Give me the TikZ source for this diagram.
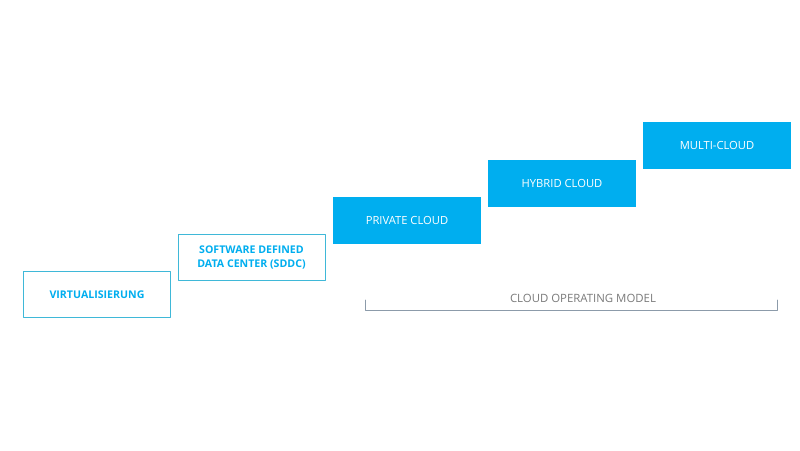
\documentclass[tikz,border=0pt]{standalone}
\usepackage{fontspec}
\setmainfont{Open Sans}
\definecolor{cloudblue}{HTML}{00AEEF}
\definecolor{stepline}{HTML}{3FB8D8}
\definecolor{bracketgray}{HTML}{8C9BAA}
\definecolor{labelgray}{HTML}{7A7A7A}
\begin{document}
\begin{tikzpicture}[
	x=1pt,y=-1pt,
	line cap=round,
	line join=round,
	outlinestep/.style={draw=stepline,line width=1pt,fill=white,text=cloudblue,
		minimum width=147pt,minimum height=46pt,align=center,inner sep=0pt,
		font=\fontsize{10.6}{14}\selectfont\bfseries},
	filledstep/.style={fill=cloudblue,text=white,
		minimum width=148pt,minimum height=47pt,align=center,inner sep=0pt,
		font=\fontsize{11.2}{14}\selectfont}
	]
	\useasboundingbox (0,0) rectangle (800,450);
	\fill[white] (0,0) rectangle (800,450);
	% steps
	\node[outlinestep] (virt) at (97,294.5) {VIRTUALISIERUNG};
	\node[outlinestep] (sddc) at (251.5,257) {SOFTWARE DEFINED\\DATA CENTER (SDDC)};
	\node[filledstep] (private) at (407,220) {PRIVATE CLOUD};
	\node[filledstep] (hybrid) at (562,183.5) {HYBRID CLOUD};
	\node[filledstep] (multi) at (717,145.5) {MULTI-CLOUD};
	% bracket under the cloud steps
	\coordinate (bl) at (365,300);
	\coordinate (br) at (777,300);
	\draw[bracketgray,line width=0.8pt] (bl) -- ++(0,10) -| (br);
	\node[text=labelgray,font=\fontsize{11.4}{14}\selectfont] (model) at (583,298.5) {CLOUD OPERATING MODEL};
\end{tikzpicture}
\end{document}
